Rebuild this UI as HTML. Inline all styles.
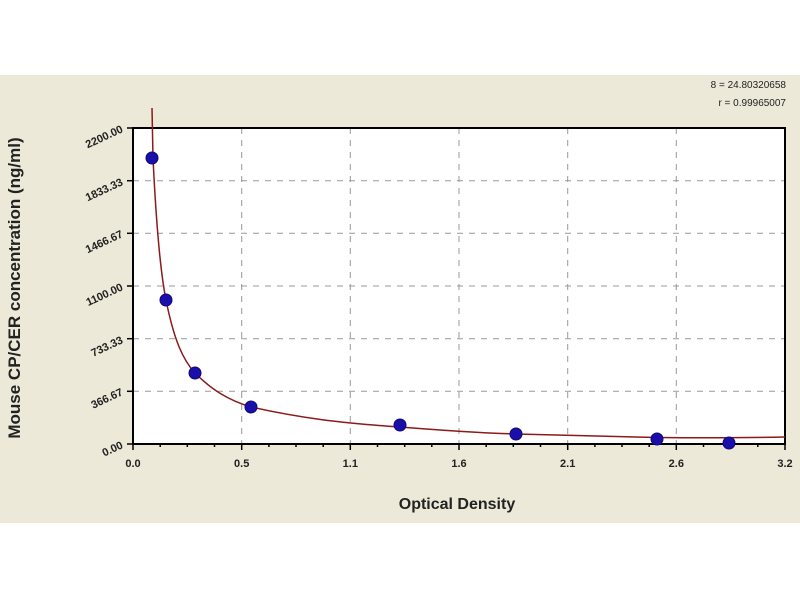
<!DOCTYPE html>
<html><head><style>body{margin:0;background:#fff}</style></head><body>
<svg width="800" height="600" xmlns="http://www.w3.org/2000/svg" font-family="Liberation Sans, sans-serif">
<rect x="0" y="0" width="800" height="600" fill="#fff"/>
<rect x="0" y="75" width="800" height="448" fill="#ece9d8"/>
<rect x="133" y="128" width="652" height="316" fill="#fff"/>
<g stroke="#999" stroke-dasharray="6,6" stroke-width="1">
<line x1="241.7" y1="128" x2="241.7" y2="444"/><line x1="350.3" y1="128" x2="350.3" y2="444"/>
<line x1="459" y1="128" x2="459" y2="444"/><line x1="567.7" y1="128" x2="567.7" y2="444"/>
<line x1="676.3" y1="128" x2="676.3" y2="444"/>
<line x1="133" y1="180.7" x2="785" y2="180.7"/><line x1="133" y1="233.3" x2="785" y2="233.3"/>
<line x1="133" y1="286" x2="785" y2="286"/><line x1="133" y1="338.7" x2="785" y2="338.7"/>
<line x1="133" y1="391.3" x2="785" y2="391.3"/>
</g>
<rect x="133" y="128" width="652" height="316" fill="none" stroke="#000" stroke-width="2"/>
<g stroke="#000" stroke-width="1.5">
<line x1="133" y1="444" x2="133" y2="450"/><line x1="241.7" y1="444" x2="241.7" y2="450"/><line x1="350.3" y1="444" x2="350.3" y2="450"/><line x1="459" y1="444" x2="459" y2="450"/><line x1="567.7" y1="444" x2="567.7" y2="450"/><line x1="676.3" y1="444" x2="676.3" y2="450"/><line x1="785" y1="444" x2="785" y2="450"/>
<line x1="127" y1="128" x2="133" y2="128"/><line x1="127" y1="180.7" x2="133" y2="180.7"/><line x1="127" y1="233.3" x2="133" y2="233.3"/><line x1="127" y1="286" x2="133" y2="286"/><line x1="127" y1="338.7" x2="133" y2="338.7"/><line x1="127" y1="391.3" x2="133" y2="391.3"/><line x1="127" y1="444" x2="133" y2="444"/>
</g>
<g stroke="#000" stroke-width="1.5">
<line x1="160.2" y1="444" x2="160.2" y2="447"/><line x1="187.3" y1="444" x2="187.3" y2="447"/><line x1="214.5" y1="444" x2="214.5" y2="447"/>
<line x1="268.9" y1="444" x2="268.9" y2="447"/><line x1="296" y1="444" x2="296" y2="447"/><line x1="323.2" y1="444" x2="323.2" y2="447"/>
<line x1="377.5" y1="444" x2="377.5" y2="447"/><line x1="404.7" y1="444" x2="404.7" y2="447"/><line x1="431.8" y1="444" x2="431.8" y2="447"/>
<line x1="486.2" y1="444" x2="486.2" y2="447"/><line x1="513.3" y1="444" x2="513.3" y2="447"/><line x1="540.5" y1="444" x2="540.5" y2="447"/>
<line x1="594.9" y1="444" x2="594.9" y2="447"/><line x1="622" y1="444" x2="622" y2="447"/><line x1="649.2" y1="444" x2="649.2" y2="447"/>
<line x1="703.5" y1="444" x2="703.5" y2="447"/><line x1="730.7" y1="444" x2="730.7" y2="447"/><line x1="757.8" y1="444" x2="757.8" y2="447"/>
</g>
<path d="M152,108 L153,158 C156,220 160,270 166,300 C174,340 183,360 195,373 C212,390 228,400 251,407 C300,418 340,423 400,427 C450,431 480,433 516,434 C580,436 620,437 657,437.5 C700,438 740,438 785,437" fill="none" stroke="#8b1a1a" stroke-width="1.5"/>
<g fill="#1a0fa8" stroke="#10087a">
<circle cx="152" cy="158" r="6"/><circle cx="166" cy="300" r="6"/><circle cx="195" cy="373" r="6"/><circle cx="251" cy="407" r="6"/><circle cx="400" cy="425" r="6"/><circle cx="516" cy="434" r="6"/><circle cx="657" cy="439" r="6"/><circle cx="729" cy="443" r="6"/>
</g>
<g font-size="11" font-weight="bold" fill="#222" text-anchor="middle">
<text x="133" y="467">0.0</text><text x="241.7" y="467">0.5</text><text x="350.3" y="467">1.1</text><text x="459" y="467">1.6</text><text x="567.7" y="467">2.1</text><text x="676.3" y="467">2.6</text><text x="785" y="467">3.2</text>
</g>
<g font-size="11" font-weight="bold" fill="#222" text-anchor="end">
<text x="122" y="132" transform="rotate(-25 122 128)">2200.00</text>
<text x="122" y="185" transform="rotate(-25 122 181)">1833.33</text>
<text x="122" y="237" transform="rotate(-25 122 233)">1466.67</text>
<text x="122" y="290" transform="rotate(-25 122 286)">1100.00</text>
<text x="122" y="343" transform="rotate(-25 122 339)">733.33</text>
<text x="122" y="395" transform="rotate(-25 122 391)">366.67</text>
<text x="122" y="448" transform="rotate(-25 122 444)">0.00</text>
</g>
<text x="457" y="509" font-size="16" font-weight="bold" fill="#222" text-anchor="middle">Optical Density</text>
<text x="20" y="288" font-size="17" font-weight="bold" fill="#222" text-anchor="middle" transform="rotate(-90 20 288)">Mouse CP/CER concentration (ng/ml)</text>
<text x="786" y="88" font-size="10" fill="#222" text-anchor="end">8 = 24.80320658</text>
<text x="786" y="106" font-size="10" fill="#222" text-anchor="end">r = 0.99965007</text>
</svg>
</body></html>
